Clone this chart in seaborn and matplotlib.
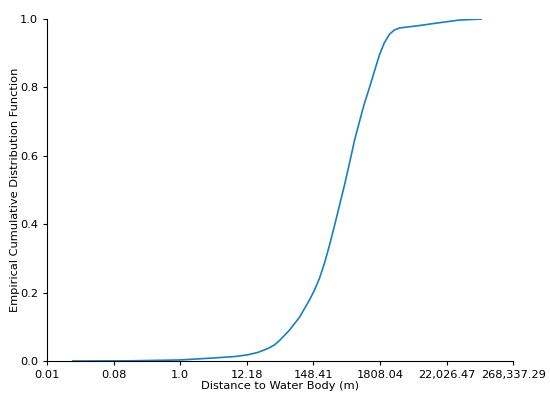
import numpy as np
import pandas as pd
import matplotlib
matplotlib.use("Agg")
import matplotlib.pyplot as plt
import seaborn as sns

# natural log of distance (m) and cumulative proportion
log_distance = [-4.03, -1.89, -0.02, 1.29, 2.04, 2.53, 2.91, 3.28, 3.54, 3.73,
                4.10, 4.48, 4.85, 5.04, 5.23, 5.42, 5.60, 5.79, 5.98, 6.17,
                6.36, 6.54, 6.73, 6.91, 7.10, 7.29, 7.48, 7.66, 7.85, 8.04,
                8.23, 8.98, 9.61, 10.47, 11.30]
ecdf_value = [0.0, 0.0005, 0.003, 0.009, 0.013, 0.018, 0.025, 0.036, 0.047, 0.060,
              0.090, 0.128, 0.178, 0.207, 0.242, 0.287, 0.337, 0.395, 0.455, 0.515,
              0.580, 0.644, 0.700, 0.752, 0.798, 0.847, 0.895, 0.930, 0.955, 0.968,
              0.974, 0.981, 0.988, 0.997, 1.0]
x_ticks = [-5, -2.5, 0, 2.5, 5, 7.5, 10, 12.5]
x_tick_labels = ["0.01", "0.08", "1.0", "12.18", "148.41", "1808.04",
                 "22,026.47", "268,337.29"]

df = pd.DataFrame({"log_distance": log_distance, "ecdf": ecdf_value})

fig, ax = plt.subplots(figsize=(5.5, 3.97), dpi=100)
sns.lineplot(data=df, x="log_distance", y="ecdf", color="#1a7fc1", linewidth=1.2, ax=ax)

ax.set_xlim(-5, 12.5)
ax.set_ylim(0, 1)
ax.set_xticks(x_ticks)
ax.set_xticklabels(x_tick_labels, fontsize=8.2)
ax.tick_params(axis="y", labelsize=8.2)
ax.tick_params(length=3)
ax.set_xlabel("Distance to Water Body (m)", fontsize=8.2, labelpad=1)
ax.set_ylabel("Empirical Cumulative Distribution Function", fontsize=8.2, labelpad=0)
sns.despine()

plt.subplots_adjust(left=0.0855, right=0.933, top=0.952, bottom=0.0907)
plt.savefig("out.png", dpi=100)
